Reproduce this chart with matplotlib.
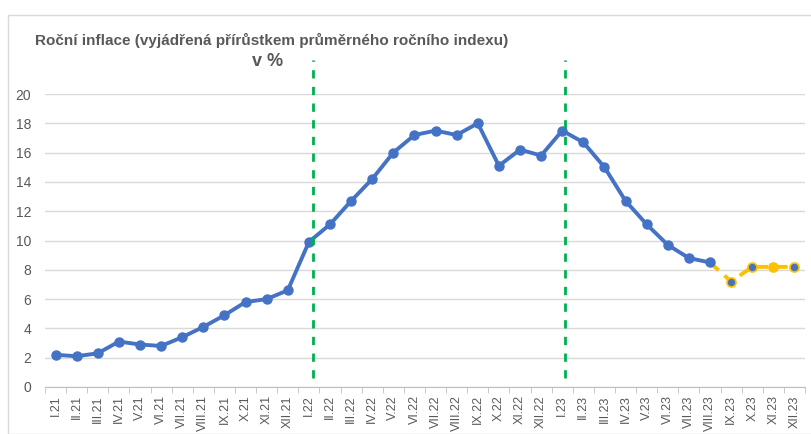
import matplotlib.pyplot as plt
from matplotlib.patches import Rectangle

# Data
months = ['I', 'II', 'III', 'IV', 'V', 'VI', 'VII', 'VIII', 'IX', 'X', 'XI', 'XII']
labels = [f'{m}.{y}' for y in ('21', '22', '23') for m in months]

actual = [2.2, 2.1, 2.3, 3.1, 2.9, 2.8, 3.4, 4.1, 4.9, 5.8, 6.0, 6.6,
          9.9, 11.1, 12.7, 14.2, 16.0, 17.2, 17.5, 17.2, 18.0, 15.1, 16.2, 15.8,
          17.5, 16.7, 15.0, 12.7, 11.1, 9.7, 8.8, 8.5]
forecast_start = 31  # VIII.23
forecast = [8.5, 7.2, 8.2, 8.2, 8.2]
forecast_face = ['#4472C4', '#4472C4', '#4472C4', '#FFC000', '#4472C4']
marker_lines = [12.2, 24.15]

blue = '#4472C4'
orange = '#FFC000'
green = '#00B050'
grey_txt = '#595959'

plt.rcParams['font.family'] = ['Liberation Sans', 'DejaVu Sans']

fig = plt.figure(figsize=(8.12, 4.34), dpi=100)
ax = fig.add_axes([45 / 812, 47 / 434, 760 / 812, 293 / 434])

# chart border
fig.patches.append(Rectangle((8 / 812, 0.0), 1.0, 419 / 434, transform=fig.transFigure,
                             fill=False, edgecolor='#D9D9D9', linewidth=1))

x = list(range(len(actual)))
ax.plot(x, actual, '-o', color=blue, linewidth=2.8, markersize=6.5, zorder=4,
        solid_capstyle='round')

fx = list(range(forecast_start, forecast_start + len(forecast)))
ax.plot(fx, forecast, '--', color=orange, linewidth=2.8, dashes=(3, 2), zorder=3)
for xi, yi, fc in zip(fx[1:], forecast[1:], forecast_face[1:]):
    ax.plot(xi, yi, 'o', markerfacecolor=fc, markeredgecolor=orange, markersize=6.5,
            markeredgewidth=1.2, zorder=5)

for xv in marker_lines:
    ax.plot([xv, xv], [0.6, 22.3], '--', color=green, linewidth=2, dashes=(3, 3),
            clip_on=False, zorder=6)

ax.set_xlim(-0.5, len(labels) - 0.5)
ax.set_ylim(0, 20)
ax.set_yticks(range(0, 21, 2))
ax.set_xticks(range(len(labels)))
ax.set_xticklabels(labels, rotation=90, fontsize=9, color=grey_txt)
ax.tick_params(axis='y', length=0, labelsize=10, labelcolor=grey_txt, pad=10)
ax.tick_params(axis='x', length=0, pad=6)
ax.set_xticks([i - 0.5 for i in range(len(labels) + 1)], minor=True)
ax.tick_params(axis='x', which='minor', length=4, color='#BFBFBF', direction='out')

ax.grid(axis='y', color='#D9D9D9', linewidth=1)
ax.set_axisbelow(True)
for side in ('top', 'right', 'left'):
    ax.spines[side].set_visible(False)
ax.spines['bottom'].set_color('#BFBFBF')

fig.text(272 / 812, 1 - 40 / 434, 'Roční inflace (vyjádřená přírůstkem průměrného ročního indexu)',
         ha='center', va='center', fontsize=11, fontweight='bold', color=grey_txt)
fig.text(268 / 812, 1 - 62 / 434, 'v %', ha='center', va='center', fontsize=13,
         fontweight='bold', color=grey_txt)

fig.savefig('out.png', dpi=100)
